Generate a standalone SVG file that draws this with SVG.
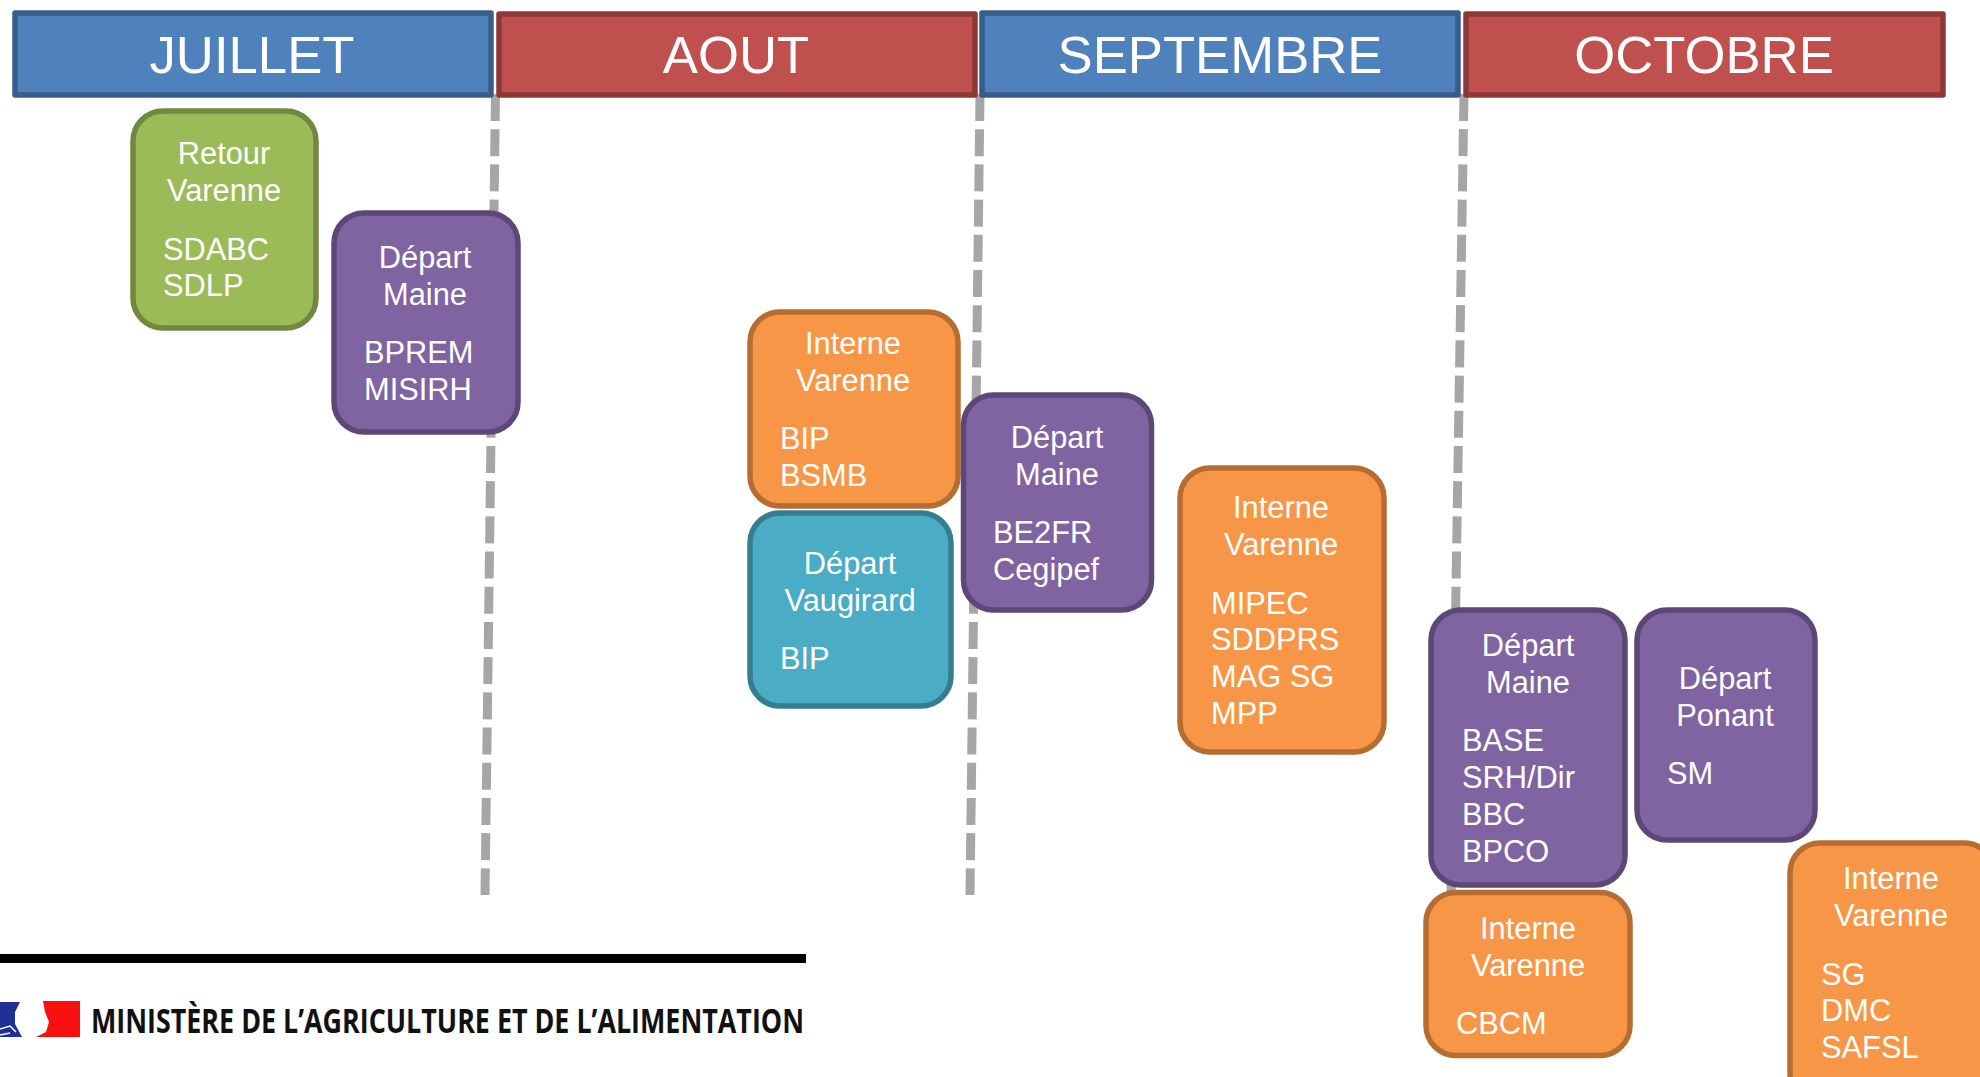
<svg xmlns="http://www.w3.org/2000/svg" width="1980" height="1077" viewBox="0 0 1980 1077">
<style>
text{font-family:"Liberation Sans",Arial,sans-serif;fill:#fff;font-size:30.8px}
.c{text-anchor:middle}
.h{font-size:52.7px;text-anchor:middle}
.hb rect{stroke-linejoin:round}
.hb rect,.n{stroke-width:5.5}
.blue{fill:#4f81bd;stroke:#385d8a}
.red{fill:#c0504d;stroke:#8c3836}
.green{fill:#9bbb59;stroke:#71893f}
.purple{fill:#8064a2;stroke:#5c4776}
.orange{fill:#f79646;stroke:#b66d31}
.teal{fill:#4bacc6;stroke:#357d91}
.d{fill:none;stroke:#a6a6a6;stroke-width:9;stroke-dasharray:27 8.2}
</style>
<rect width="1980" height="1077" fill="#fff"/>
<g id="connectors">
<path class="d" d="M495.500 94L485 895"/>
<path class="d" d="M980 94L970 895"/>
<path class="d" d="M1464 94L1451 895"/>
</g>
<g id="h-juillet" class="hb"><rect class="blue" x="15" y="13" width="476" height="82"/><text class="h" x="252" y="73">JUILLET</text></g>
<g id="h-aout" class="hb"><rect class="red" x="499" y="14" width="476" height="81"/><text class="h" x="736" y="73">AOUT</text></g>
<g id="h-septembre" class="hb"><rect class="blue" x="982" y="13" width="476" height="82"/><text class="h" x="1220" y="73">SEPTEMBRE</text></g>
<g id="h-octobre" class="hb"><rect class="red" x="1466" y="14" width="477" height="81"/><text class="h" x="1704" y="73">OCTOBRE</text></g>
<g id="n-retour"><rect class="n green" x="133" y="111" width="183" height="217" rx="30"/><text class="c" x="224" y="164">Retour</text><text class="c" x="224" y="201">Varenne</text><text x="163" y="260">SDABC</text><text x="163" y="296">SDLP</text></g>
<g id="n-maine1"><rect class="n purple" x="334" y="213" width="184" height="219" rx="30"/><text class="c" x="425" y="268">Départ</text><text class="c" x="425" y="305">Maine</text><text x="364" y="363">BPREM</text><text x="364" y="400">MISIRH</text></g>
<g id="n-interne1"><rect class="n orange" x="750" y="312" width="208" height="194" rx="30"/><text class="c" x="853" y="354">Interne</text><text class="c" x="853" y="391">Varenne</text><text x="780" y="449">BIP</text><text x="780" y="486">BSMB</text></g>
<g id="n-vaugirard"><rect class="n teal" x="750" y="513" width="201" height="193" rx="30"/><text class="c" x="850" y="574">Départ</text><text class="c" x="850" y="611">Vaugirard</text><text x="780" y="669">BIP</text></g>
<g id="n-maine2"><rect class="n purple" x="963.500" y="395" width="188" height="215" rx="30"/><text class="c" x="1057" y="448">Départ</text><text class="c" x="1057" y="485">Maine</text><text x="993" y="543">BE2FR</text><text x="993" y="580">Cegipef</text></g>
<g id="n-interne2"><rect class="n orange" x="1180" y="468" width="204" height="284" rx="30"/><text class="c" x="1281" y="518">Interne</text><text class="c" x="1281" y="555">Varenne</text><text x="1211" y="614">MIPEC</text><text x="1211" y="650">SDDPRS</text><text x="1211" y="687">MAG SG</text><text x="1211" y="724">MPP</text></g>
<g id="n-maine3"><rect class="n purple" x="1431" y="610" width="194" height="275" rx="30"/><text class="c" x="1528" y="656">Départ</text><text class="c" x="1528" y="693">Maine</text><text x="1462" y="751">BASE</text><text x="1462" y="788">SRH/Dir</text><text x="1462" y="825">BBC</text><text x="1462" y="862">BPCO</text></g>
<g id="n-ponant"><rect class="n purple" x="1637" y="610" width="178" height="230" rx="30"/><text class="c" x="1725" y="689">Départ</text><text class="c" x="1725" y="726">Ponant</text><text x="1667" y="784">SM</text></g>
<g id="n-cbcm"><rect class="n orange" x="1426" y="892.500" width="204" height="163" rx="30"/><text class="c" x="1528" y="939">Interne</text><text class="c" x="1528" y="976">Varenne</text><text x="1456" y="1034">CBCM</text></g>
<g id="n-interne3"><rect class="n orange" x="1790" y="843" width="204" height="260" rx="30"/><text class="c" x="1891" y="889">Interne</text><text class="c" x="1891" y="926">Varenne</text><text x="1821" y="985">SG</text><text x="1821" y="1021">DMC</text><text x="1821" y="1058">SAFSL</text></g>
<g id="logo">
<rect x="0" y="954" width="806" height="9" fill="#000"/>
<path d="M0 1002H20L15 1012L15 1024L22 1037H0Z" fill="#1f2f96"/>
<path d="M0 1029L10 1026L16 1032M0 1035L10 1033" fill="none" stroke="#fff" stroke-width="1.500"/>
<path d="M43 1001H80V1037H36L46 1032L49 1022L45 1012Z" fill="#f61010"/>
<text x="91" y="1033" textLength="713" lengthAdjust="spacingAndGlyphs" style="font-family:'Open Sans','Liberation Sans',sans-serif;font-weight:700;font-size:34px;fill:#111">MINISTÈRE DE L’AGRICULTURE ET DE L’ALIMENTATION</text>
</g>
</svg>
